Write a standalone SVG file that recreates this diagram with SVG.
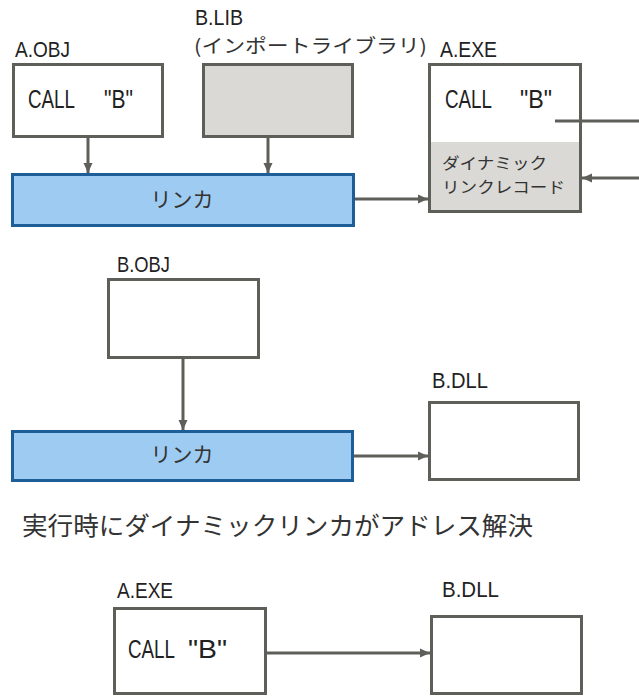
<svg xmlns="http://www.w3.org/2000/svg" width="639" height="697" viewBox="0 0 639 697">
<defs>
<marker id="ah" markerUnits="userSpaceOnUse" markerWidth="10" markerHeight="10" viewBox="0 0 10 10" refX="10" refY="5" orient="auto">
<path d="M0,0.5 L10,5 L0,9.5 z" fill="#5f5f5a"/>
</marker>
<style>
.box{fill:#fff;stroke:#5f5f5a;stroke-width:3}
.gbox{fill:#dad9d6;stroke:#5f5f5a;stroke-width:3}
.lnk{fill:#9ecbf1;stroke:#1d5e98;stroke-width:3}
.lat{font-family:"Liberation Sans Narrow","Liberation Sans",sans-serif;font-size:22.5px;fill:#222}
.call{font-family:"Liberation Sans Narrow","Liberation Sans",sans-serif;font-size:25px;fill:#222}
.jp{font-family:"Noto Sans CJK JP","Noto Sans",sans-serif;fill:#333}
.con{stroke:#5f5f5a;stroke-width:3;fill:none}
</style>
</defs>
<rect width="639" height="697" fill="#fff"/>

<g id="a-obj">
<text class="lat" x="15" y="57" textLength="55" lengthAdjust="spacingAndGlyphs">A.OBJ</text>
<rect class="box" x="13.5" y="64.5" width="149" height="72"/>
<text class="call" y="108"><tspan x="28" textLength="47" lengthAdjust="spacingAndGlyphs">CALL</tspan><tspan x="104" textLength="29" lengthAdjust="spacingAndGlyphs">"B"</tspan></text>
</g>

<g id="b-lib">
<text class="lat" x="195" y="25" textLength="48" lengthAdjust="spacingAndGlyphs">B.LIB</text>
<text class="jp" x="194" y="53" font-size="19" textLength="233" lengthAdjust="spacingAndGlyphs">(インポートライブラリ)</text>
<rect class="gbox" x="203.5" y="64.5" width="149" height="72"/>
</g>

<g id="a-exe-1">
<text class="lat" x="440" y="57" textLength="57" lengthAdjust="spacingAndGlyphs">A.EXE</text>
<rect x="430" y="142" width="150" height="70" fill="#dad9d6"/>
<rect class="box" x="429.5" y="64.5" width="151" height="147" style="fill:none"/>
<text class="call" y="108"><tspan x="445" textLength="47" lengthAdjust="spacingAndGlyphs">CALL</tspan><tspan x="520" textLength="32" lengthAdjust="spacingAndGlyphs">"B"</tspan></text>
<text class="jp" x="442" y="169" font-size="16" textLength="105" lengthAdjust="spacingAndGlyphs">ダイナミック</text>
<text class="jp" x="442" y="193" font-size="16" textLength="123" lengthAdjust="spacingAndGlyphs">リンクレコード</text>
</g>

<g id="linker-1">
<rect class="lnk" x="12.5" y="174.5" width="341" height="51"/>
<text class="jp" x="182" y="207" font-size="21" text-anchor="middle">リンカ</text>
</g>

<g id="b-obj">
<text class="lat" x="117" y="272" textLength="53" lengthAdjust="spacingAndGlyphs">B.OBJ</text>
<rect class="box" x="108.5" y="279.5" width="150" height="78"/>
</g>

<g id="linker-2">
<rect class="lnk" x="12.5" y="431.5" width="340" height="49"/>
<text class="jp" x="182" y="462" font-size="21" text-anchor="middle">リンカ</text>
</g>

<g id="b-dll-1">
<text class="lat" x="432" y="388" textLength="56" lengthAdjust="spacingAndGlyphs">B.DLL</text>
<rect class="box" x="429.5" y="402.5" width="149" height="77"/>
</g>

<g id="caption">
<text class="jp" x="22" y="535" font-size="25" textLength="511" lengthAdjust="spacingAndGlyphs">実行時にダイナミックリンカがアドレス解決</text>
</g>

<g id="a-exe-2">
<text class="lat" x="117" y="598" textLength="56" lengthAdjust="spacingAndGlyphs">A.EXE</text>
<rect class="box" x="114.5" y="608.5" width="151" height="85"/>
<text class="call" y="658"><tspan x="128" textLength="47" lengthAdjust="spacingAndGlyphs">CALL</tspan><tspan x="188" textLength="39" lengthAdjust="spacingAndGlyphs">"B"</tspan></text>
</g>

<g id="b-dll-2">
<text class="lat" x="442" y="597" textLength="57" lengthAdjust="spacingAndGlyphs">B.DLL</text>
<rect class="box" x="431.5" y="616.5" width="150" height="77"/>
</g>

<g id="connectors">
<line class="con" x1="88" y1="138" x2="88" y2="173" marker-end="url(#ah)"/>
<line class="con" x1="268" y1="138" x2="268" y2="173" marker-end="url(#ah)"/>
<line class="con" x1="355" y1="199" x2="428" y2="199" marker-end="url(#ah)"/>
<line class="con" x1="555" y1="121" x2="639" y2="121"/>
<line class="con" x1="639" y1="178" x2="582" y2="178" marker-end="url(#ah)"/>
<line class="con" x1="183" y1="359" x2="183" y2="430" marker-end="url(#ah)"/>
<line class="con" x1="354" y1="456" x2="428" y2="456" marker-end="url(#ah)"/>
<line class="con" x1="267" y1="653" x2="430" y2="653" marker-end="url(#ah)"/>
</g>
</svg>
